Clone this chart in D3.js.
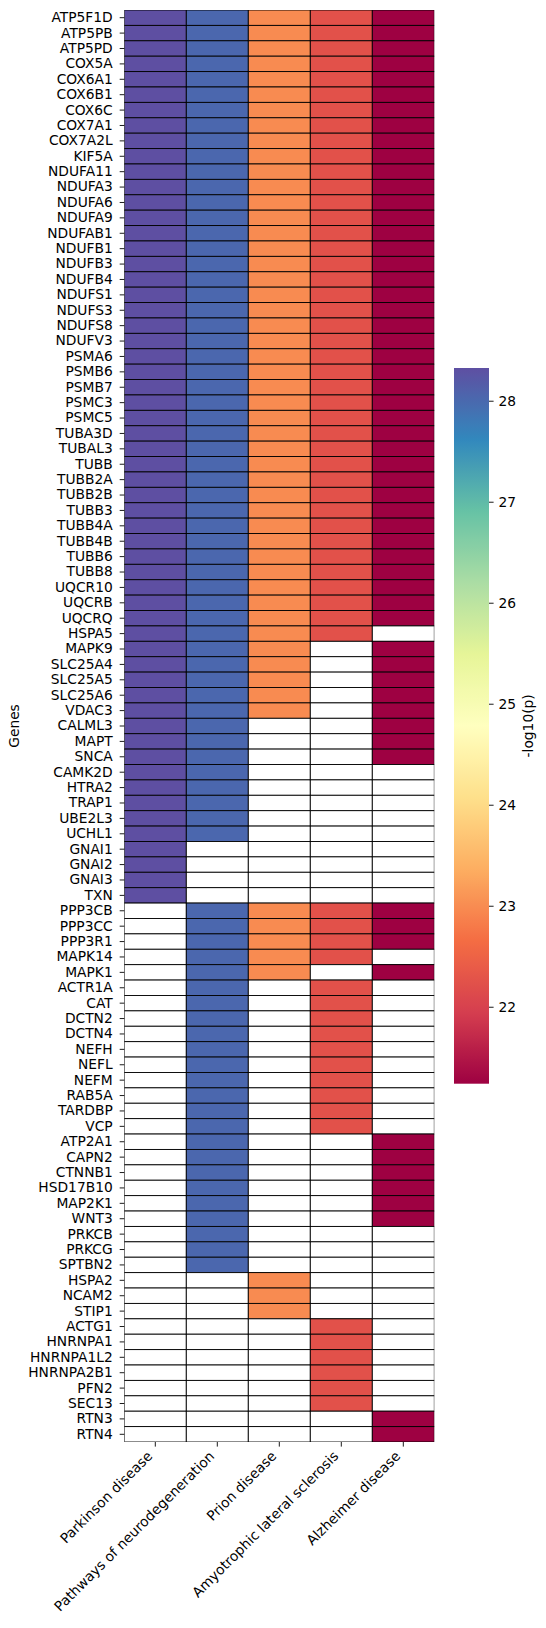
<!DOCTYPE html>
<html><head><meta charset="utf-8">
<script src="https://cdn.jsdelivr.net/npm/d3@7"></script>
<style>body{margin:0;background:#fff}svg{display:block}text{font-family:"DejaVu Sans",sans-serif}</style>
</head><body><svg id="c" width="546" height="1628"></svg>
<script>
const genes = ["ATP5F1D","ATP5PB","ATP5PD","COX5A","COX6A1","COX6B1","COX6C","COX7A1","COX7A2L","KIF5A","NDUFA11","NDUFA3","NDUFA6","NDUFA9","NDUFAB1","NDUFB1","NDUFB3","NDUFB4","NDUFS1","NDUFS3","NDUFS8","NDUFV3","PSMA6","PSMB6","PSMB7","PSMC3","PSMC5","TUBA3D","TUBAL3","TUBB","TUBB2A","TUBB2B","TUBB3","TUBB4A","TUBB4B","TUBB6","TUBB8","UQCR10","UQCRB","UQCRQ","HSPA5","MAPK9","SLC25A4","SLC25A5","SLC25A6","VDAC3","CALML3","MAPT","SNCA","CAMK2D","HTRA2","TRAP1","UBE2L3","UCHL1","GNAI1","GNAI2","GNAI3","TXN","PPP3CB","PPP3CC","PPP3R1","MAPK14","MAPK1","ACTR1A","CAT","DCTN2","DCTN4","NEFH","NEFL","NEFM","RAB5A","TARDBP","VCP","ATP2A1","CAPN2","CTNNB1","HSD17B10","MAP2K1","WNT3","PRKCB","PRKCG","SPTBN2","HSPA2","NCAM2","STIP1","ACTG1","HNRNPA1","HNRNPA1L2","HNRNPA2B1","PFN2","SEC13","RTN3","RTN4"];
const pathways = ["Parkinson disease","Pathways of neurodegeneration","Prion disease","Amyotrophic lateral sclerosis","Alzheimer disease"];
const pathwayScores = [28.32, 28.02, 22.98, 22.24, 21.24];
const coreGenes = ["ATP5F1D","ATP5PB","ATP5PD","COX5A","COX6A1","COX6B1","COX6C","COX7A1","COX7A2L","KIF5A","NDUFA11","NDUFA3","NDUFA6","NDUFA9","NDUFAB1","NDUFB1","NDUFB3","NDUFB4","NDUFS1","NDUFS3","NDUFS8","NDUFV3","PSMA6","PSMB6","PSMB7","PSMC3","PSMC5","TUBA3D","TUBAL3","TUBB","TUBB2A","TUBB2B","TUBB3","TUBB4A","TUBB4B","TUBB6","TUBB8","UQCR10","UQCRB","UQCRQ"];
const parkinsonGenes = coreGenes.concat(["HSPA5","MAPK9","SLC25A4","SLC25A5","SLC25A6","VDAC3","CALML3","MAPT","SNCA","CAMK2D","HTRA2","TRAP1","UBE2L3","UCHL1","GNAI1","GNAI2","GNAI3","TXN"]);
const neurodegenGenes = coreGenes.concat(["HSPA5","MAPK9","SLC25A4","SLC25A5","SLC25A6","VDAC3","CALML3","MAPT","SNCA","CAMK2D","HTRA2","TRAP1","UBE2L3","UCHL1","PPP3CB","PPP3CC","PPP3R1","MAPK14","MAPK1","ACTR1A","CAT","DCTN2","DCTN4","NEFH","NEFL","NEFM","RAB5A","TARDBP","VCP","ATP2A1","CAPN2","CTNNB1","HSD17B10","MAP2K1","WNT3","PRKCB","PRKCG","SPTBN2"]);
const prionGenes = coreGenes.concat(["HSPA5","MAPK9","SLC25A4","SLC25A5","SLC25A6","VDAC3","PPP3CB","PPP3CC","PPP3R1","MAPK14","MAPK1","HSPA2","NCAM2","STIP1"]);
const alsGenes = coreGenes.concat(["HSPA5","PPP3CB","PPP3CC","PPP3R1","MAPK14","ACTR1A","CAT","DCTN2","DCTN4","NEFH","NEFL","NEFM","RAB5A","TARDBP","VCP","ACTG1","HNRNPA1","HNRNPA1L2","HNRNPA2B1","PFN2","SEC13"]);
const alzheimerGenes = coreGenes.concat(["MAPK9","SLC25A4","SLC25A5","SLC25A6","VDAC3","CALML3","MAPT","SNCA","PPP3CB","PPP3CC","PPP3R1","MAPK1","ATP2A1","CAPN2","CTNNB1","HSD17B10","MAP2K1","WNT3","RTN3","RTN4"]);
const memberLists = [parkinsonGenes, neurodegenGenes, prionGenes, alsGenes, alzheimerGenes];
const cbarTicks = [22,23,24,25,26,27,28];
const cbarMin = 21.238, cbarMax = 28.324;
const spectral = ["#9e0142","#d53e4f","#f46d43","#fdae61","#fee08b","#ffffbf","#e6f598","#abdda4","#66c2a5","#3288bd","#5e4fa2"];

const svg = d3.select("#c");
const L = 124.3, R = 434.3, T = 10, B = 1442;
const x = d3.scaleBand().domain(pathways).range([L, R]);
const y = d3.scaleBand().domain(genes).range([T, B]);
const color = d3.scaleLinear()
  .domain(spectral.map((_, i) => cbarMin + (cbarMax - cbarMin) * i / (spectral.length - 1)))
  .range(spectral).interpolate(d3.interpolateRgb).clamp(true);

const cells = [];
pathways.forEach((p, j) => {
  const set = new Set(memberLists[j]);
  genes.forEach(g => cells.push({p, g, v: set.has(g) ? pathwayScores[j] : null}));
});

svg.append("clipPath").attr("id","pc").append("rect").attr("x",L).attr("y",T).attr("width",R-L).attr("height",B-T);
svg.append("g").attr("clip-path","url(#pc)").selectAll("rect").data(cells).join("rect")
  .attr("x", d => x(d.p)).attr("y", d => y(d.g))
  .attr("width", x.bandwidth()).attr("height", y.bandwidth())
  .attr("fill", d => d.v == null ? "#fff" : color(d.v))
  .attr("stroke", "#000").attr("stroke-width", 0.9);

const fs = "13.8px";
const yAxis = svg.append("g").attr("transform", `translate(${L},0)`)
  .call(d3.axisLeft(y).tickSize(4.6).tickPadding(7));
yAxis.select(".domain").remove();
yAxis.selectAll("text").attr("font-size", fs).attr("fill","#000").attr("font-family","DejaVu Sans");
yAxis.selectAll("line").attr("stroke","#000").attr("stroke-width",0.9);

const xAxis = svg.append("g").attr("transform", `translate(0,${B})`)
  .call(d3.axisBottom(x).tickSize(4.6).tickPadding(4.3));
xAxis.select(".domain").remove();
xAxis.selectAll("line").attr("stroke","#000").attr("stroke-width",0.9);
xAxis.selectAll("text").attr("font-size", fs).attr("fill","#000").attr("font-family","DejaVu Sans")
  .attr("text-anchor","end").attr("dy", null).attr("y", null)
  .attr("transform", "translate(-2,15) rotate(-45)");

svg.append("text").attr("transform", `translate(19,${(T+B)/2}) rotate(-90)`)
  .attr("text-anchor","middle").attr("font-size", fs).attr("fill","#000").text("Genes");

// colorbar
const cbX = 454, cbW = 35, cbT = 368, cbB = 1083.7;
const cy = d3.scaleLinear().domain([cbarMin, cbarMax]).range([cbB, cbT]);
const grad = svg.append("defs").append("linearGradient").attr("id","cg")
  .attr("x1","0").attr("y1","1").attr("x2","0").attr("y2","0");
d3.range(0, 101).forEach(i => {
  grad.append("stop").attr("offset", i + "%").attr("stop-color", color(cbarMin + (cbarMax - cbarMin) * i / 100));
});
svg.append("rect").attr("x", cbX).attr("y", cbT).attr("width", cbW).attr("height", cbB - cbT).attr("fill","url(#cg)");
const cAxis = svg.append("g").attr("transform", `translate(${cbX + cbW},0)`)
  .call(d3.axisRight(cy).tickValues(cbarTicks).tickFormat(d3.format("d")).tickSize(4.6).tickPadding(5));
cAxis.select(".domain").remove();
cAxis.selectAll("line").attr("stroke","#000").attr("stroke-width",0.9);
cAxis.selectAll("text").attr("font-size", fs).attr("fill","#000").attr("font-family","DejaVu Sans");
svg.append("text").attr("transform", `translate(533,${(cbT+cbB)/2}) rotate(-90)`)
  .attr("text-anchor","middle").attr("font-size", fs).attr("fill","#000").text("-log10(p)");
</script></body></html>
